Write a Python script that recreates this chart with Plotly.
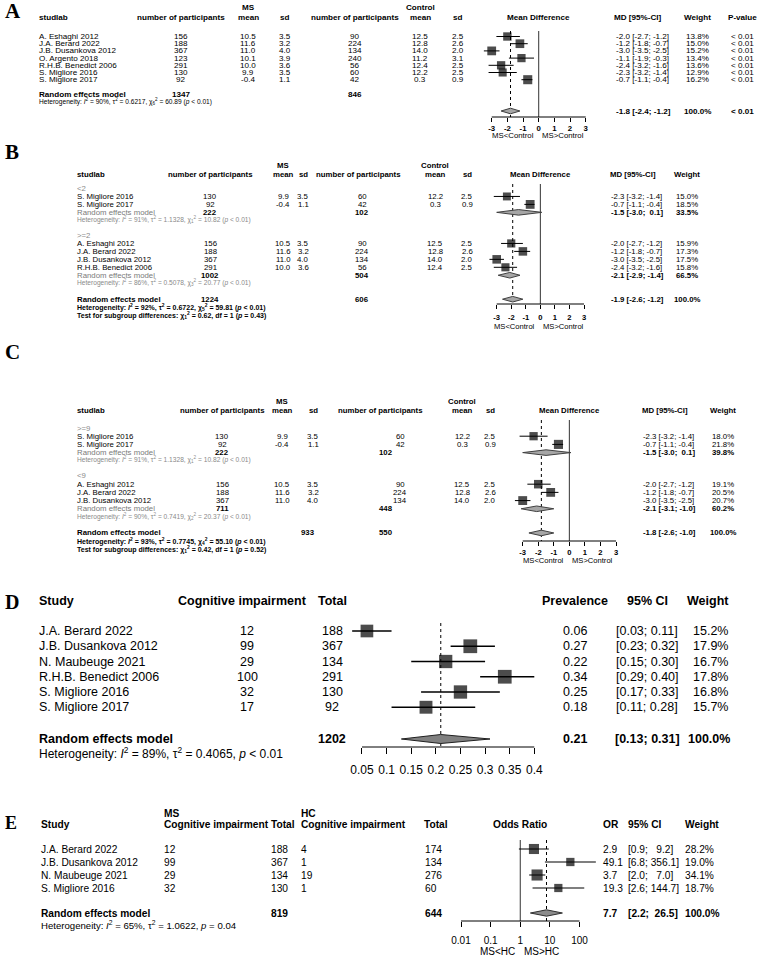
import math
import plotly.graph_objects as go

W, H = 762, 959
SANS = "Liberation Sans, Arial, Helvetica, sans-serif"
SERIF = "Liberation Serif, Times New Roman, serif"
NB = "\u00a0"

# ---------------- Panel A : all studies, mean difference ----------------
studies_A = ["A. Eshaghi 2012", "J.A. Berard 2022", "J.B. Dusankova 2012", "O. Argento 2018",
             "R.H.B. Benedict 2006", "S. Migliore 2016", "S. Migliore 2017"]
n_ms_A = [156, 188, 367, 123, 291, 130, 92]
mean_ms_A = [10.5, 11.6, 11.0, 10.1, 10.0, 9.9, -0.4]
sd_ms_A = [3.5, 3.2, 4.0, 3.9, 3.6, 3.5, 1.1]
n_c_A = [90, 224, 134, 240, 56, 60, 42]
mean_c_A = [12.5, 12.8, 14.0, 11.2, 12.4, 12.2, 0.3]
sd_c_A = [2.5, 2.6, 2.0, 3.1, 2.5, 2.5, 0.9]
md_A = [-2.0, -1.2, -3.0, -1.1, -2.4, -2.3, -0.7]
lo_A = [-2.7, -1.8, -3.5, -1.9, -3.2, -3.2, -1.1]
hi_A = [-1.2, -0.7, -2.5, -0.3, -1.6, -1.4, -0.4]
w_A = [13.8, 15.0, 15.2, 13.4, 13.6, 12.9, 16.2]
pval_A = ["< 0.01"] * 7
pooled_A = (-1.8, -2.4, -1.2)
pooled_p_A = "< 0.01"
tot_A = (1347, 846)
het_A = (90, 0.6217, 6, 60.89, "< 0.01")

# ---------------- Panel B : subgroups <2 / >=2 ----------------
groups_B = ["<2", ">=2"]
idx_B = [[5, 6], [0, 1, 2, 4]]
w_B = [[15.0, 18.5], [15.9, 17.3, 17.5, 15.8]]
sub_B = [(-1.5, -3.0, 0.1), (-2.1, -2.9, -1.4)]
subw_B = [33.5, 66.5]
subn_B = [(222, 102), (1002, 504)]
subhet_B = [(91, 1.1328, 1, 10.82, "< 0.01"), (86, 0.5078, 3, 20.77, "< 0.01")]
pooled_B = (-1.9, -2.6, -1.2)
tot_B = (1224, 606)
het_B = (92, 0.6722, 5, 59.81, "< 0.01")
test_B = (0.62, 1, "0.43")

# ---------------- Panel C : subgroups >=9 / <9 ----------------
groups_C = [">=9", "<9"]
idx_C = [[5, 6], [0, 1, 2]]
w_C = [[18.0, 21.8], [19.1, 20.5, 20.7]]
sub_C = [(-1.5, -3.0, 0.1), (-2.1, -3.1, -1.0)]
subw_C = [39.8, 60.2]
subn_C = [(222, 102), (711, 448)]
subhet_C = [(91, 1.1328, 1, 10.82, "< 0.01"), (90, 0.7419, 2, 20.37, "< 0.01")]
pooled_C = (-1.8, -2.6, -1.0)
tot_C = (933, 550)
het_C = (93, 0.7745, 4, 55.10, "< 0.01")
test_C = (0.42, 1, "0.52")

# ---------------- Panel D : prevalence ----------------
studies_D = ["J.A. Berard 2022", "J.B. Dusankova 2012", "N. Maubeuge 2021",
             "R.H.B. Benedict 2006", "S. Migliore 2016", "S. Migliore 2017"]
events_D = [12, 99, 29, 100, 32, 17]
total_D = [188, 367, 134, 291, 130, 92]
prev_D = [0.06, 0.27, 0.22, 0.34, 0.25, 0.18]
lo_D = [0.03, 0.23, 0.15, 0.29, 0.17, 0.11]
hi_D = [0.11, 0.32, 0.30, 0.40, 0.33, 0.28]
w_D = [15.2, 17.9, 16.7, 17.8, 16.8, 15.7]
pooled_D = (0.21, 0.13, 0.31)
tot_D = 1202
ticks_D = [0.05, 0.1, 0.15, 0.2, 0.25, 0.3, 0.35, 0.4]
ticklab_D = ["0.05", "0.1", "0.15", "0.2", "0.25", "0.3", "0.35", "0.4"]

# ---------------- Panel E : odds ratio ----------------
studies_E = ["J.A. Berard 2022", "J.B. Dusankova 2012", "N. Maubeuge 2021", "S. Migliore 2016"]
ms_ev_E = [12, 99, 29, 32]
ms_tot_E = [188, 367, 134, 130]
hc_ev_E = [4, 1, 19, 1]
hc_tot_E = [174, 134, 276, 60]
or_E = [2.9, 49.1, 3.7, 19.3]
lo_E = [0.9, 6.8, 2.0, 2.6]
hi_E = [9.2, 356.1, 7.0, 144.7]
w_E = [28.2, 19.0, 34.1, 18.7]
pooled_E = (7.7, 2.2, 26.5)
tot_E = (819, 644)
ticks_E = [0.01, 0.1, 1, 10, 100]
ticklab_E = ["0.01", "0.1", "1", "10", "100"]

ticks_MD = [-3, -2, -1, 0, 1, 2, 3]

# ======================================================================
fig = go.Figure()
ann, shp, axes = [], [], {}


def esc(s):
    return s.replace("<", "&lt;").replace(">", "&gt;")


def T(x, y, s, size, anchor="left", bold=False, color="black", family=SANS):
    ann.append(dict(x=x / W, y=y, xref="paper", yref="y", text=s, showarrow=False,
                    xanchor=anchor, yanchor="middle", borderpad=0,
                    font=dict(size=size, color=color, family=family,
                              weight="bold" if bold else "normal")))


def het_txt(h):
    I2, tau, df, chi, p = h
    return (f"Heterogeneity: <i>I</i><sup>2</sup> = {I2}%, τ<sup>2</sup> = {tau:.4f}, "
            f"χ<sub>{df}</sub><sup>2</sup> = {chi:.2f} (<i>p</i> {esc(p)})")


def test_txt(t):
    chi, df, p = t
    return f"Test for subgroup differences: χ<sub>{df}</sub><sup>2</sup> = {chi:.2f}, df = {df} (<i>p</i> = {p})"


def md_txt(e, l, h):
    pad = NB if h >= 0 else ""
    return f"{e:.1f} [{l:.1f}; {pad}{h:.1f}]"


def add_axis(key, a, b, pa, pb, yline, tickvals, ticktext, ext, ticklen, tsize, tbold, standoff, log=False):
    la, lb = (math.log10(a), math.log10(b)) if log else (a, b)
    s = (pb - pa) / (lb - la)
    name = "xaxis" if key == "x" else "xaxis" + key[1:]
    axes[name] = dict(
        domain=[(pa - ext * s) / W, (pb + ext * s) / W], range=[la - ext, lb + ext],
        type="log" if log else "linear", anchor="free", position=1 - yline / H,
        showgrid=False, zeroline=False, showline=False,
        ticks="outside", ticklen=ticklen, tickwidth=1, tickcolor="black",
        tickmode="array", tickvals=tickvals, ticktext=ticktext,
        tickfont=dict(size=tsize, family=SANS, color="black", weight="bold" if tbold else "normal"),
        ticklabelstandoff=int(round(standoff)), fixedrange=True)
    shp.append(dict(type="line", xref=key, yref="y", x0=a, x1=b, y0=yline, y1=yline,
                    line=dict(color="black", width=1)))


def vline(key, x, y0, y1, dash="solid", color="black", width=1):
    shp.append(dict(type="line", xref=key, yref="y", x0=x, x1=x, y0=y0, y1=y1, layer="below",
                    line=dict(color=color, width=width, dash=dash)))


def forest(key, est, lo, hi, ys, wts, k, lw=1):
    xs, yy = [], []
    for l, h, y in zip(lo, hi, ys):
        xs += [l, h, None]
        yy += [y, y, None]
    fig.add_trace(go.Scatter(x=xs, y=yy, mode="lines", xaxis=key, yaxis="y",
                             line=dict(color="black", width=lw), hoverinfo="skip", showlegend=False))
    fig.add_trace(go.Scatter(x=est, y=ys, mode="markers", xaxis=key, yaxis="y", cliponaxis=False,
                             marker=dict(symbol="square", color="black", line=dict(width=0),
                                         size=[k * math.sqrt(w) for w in wts]),
                             hoverinfo="skip", showlegend=False))


def diamond(key, est, lo, hi, y, h, fill="#a6a6a6", line="#404040"):
    fig.add_trace(go.Scatter(x=[lo, est, hi, est, lo], y=[y, y - h, y, y + h, y], mode="lines",
                             fill="toself", fillcolor=fill, xaxis=key, yaxis="y",
                             line=dict(color=line, width=1), hoverinfo="skip", showlegend=False))


def letter(y, s, size):
    T(4, y, s, size, "left", True, "black", SERIF)


# ======================= Panel A =======================
fs = 8.1
letter(11, "A", 21)
cA = dict(name=38, n1=181, m1=248, s1=285, n2=355, m2=420, s2=458, fp=538, md=615, w=697, p=742)
T(cA["m1"], 7, "MS", fs, "center", True)
T(cA["m2"], 7, "Control", fs, "center", True)
hy = 17
T(cA["name"], hy, "studlab", fs, "left", True)
for k, s in [("n1", "number of participants"), ("m1", "mean"), ("s1", "sd"),
             ("n2", "number of participants"), ("m2", "mean"), ("s2", "sd"),
             ("fp", "Mean Difference"), ("w", "Weight"), ("p", "P-value")]:
    T(cA[k], hy, s, fs, "center", True)
T(cA["md"] + 23, hy, "MD [95%-CI]", fs, "center", True)
rowsA = [36.5 + 7.2 * i for i in range(len(studies_A))]
for i, s in enumerate(studies_A):
    y = rowsA[i]
    T(cA["name"], y, s, fs)
    T(cA["n1"], y, str(n_ms_A[i]), fs, "center")
    T(cA["m1"], y, f"{mean_ms_A[i]:.1f}", fs, "center")
    T(cA["s1"], y, f"{sd_ms_A[i]:.1f}", fs, "center")
    T(cA["n2"], y, str(n_c_A[i]), fs, "center")
    T(cA["m2"], y, f"{mean_c_A[i]:.1f}", fs, "center")
    T(cA["s2"], y, f"{sd_c_A[i]:.1f}", fs, "center")
    T(cA["md"], y, md_txt(md_A[i], lo_A[i], hi_A[i]), fs)
    T(cA["w"], y, f"{w_A[i]:.1f}%", fs, "center")
    T(cA["p"], y, esc(pval_A[i]), fs, "center")
yre_l, yre_r = 94, 111
T(cA["name"], yre_l, "Random effects model", fs, "left", True)
T(cA["n1"], yre_l, str(tot_A[0]), fs, "center", True)
T(cA["n2"], yre_l, str(tot_A[1]), fs, "center", True)
T(cA["name"], 101.5, het_txt(het_A), 6.6)
T(cA["md"], yre_r, md_txt(*pooled_A), fs, "left", True)
T(cA["w"], yre_r, "100.0%", fs, "center", True)
T(cA["p"], yre_r, esc(pooled_p_A), fs, "center", True)
axA = 117
add_axis("x", -3, 3, 491.7, 585.7, axA, ticks_MD, [str(t) for t in ticks_MD], 1, 3.5, 7.8, True, 0)
vline("x", 0, 31, axA, color="#333333")
vline("x", pooled_A[0], 31, axA, dash="dot")
forest("x", md_A, lo_A, hi_A, rowsA, w_A, 2.25)
diamond("x", *pooled_A, yre_r, 2.8)
for txt, anc, xs in [("MS&lt;Control", "right", -3), ("MS&gt;Control", "left", 1)]:
    ann.append(dict(x=0, y=135.5, xref="x", yref="y", text=txt, showarrow=False, xanchor=anc,
                    xshift=xs, yanchor="middle", font=dict(size=7.8, family=SANS, color="black")))


# ======================= Panels B and C (subgroups) =======================
def subgroup_panel(key, c, fs, y0, groups, idx, wts, subs, subw, subn, subhet, pooled, tot, het, test,
                   ax_px, axline, standoff, sub_dy, k, line_top):
    T(c["m1"], y0, "MS", fs, "center", True)
    T(c["m2"], y0, "Control", fs, "center", True)
    hy = y0 + 9
    T(c["name"], hy, "studlab", fs, "left", True)
    for kk, s in [("n1", "number of participants"), ("m1", "mean"), ("s1", "sd"),
                  ("n2h", "number of participants"), ("m2", "mean"), ("s2", "sd"),
                  ("fp", "Mean Difference"), ("w", "Weight")]:
        T(c[kk], hy, s, fs, "center", True)
    T(c["md"] + 23, hy, "MD [95%-CI]", fs, "center", True)
    y = c["first"]
    ys_all, est_all, lo_all, hi_all, w_all = [], [], [], [], []
    for g in range(len(groups)):
        T(c["name"], y, esc(groups[g]), fs, "left", False, "#8a8a8a")
        y += c["step"]
        for j, i in enumerate(idx[g]):
            T(c["name"], y, studies_A[i], fs)
            T(c["n1"], y, str(n_ms_A[i]), fs, "center")
            T(c["m1"], y, f"{mean_ms_A[i]:.1f}", fs, "center")
            T(c["s1"], y, f"{sd_ms_A[i]:.1f}", fs, "center")
            T(c["n2"], y, str(n_c_A[i]), fs, "center")
            T(c["m2"], y, f"{mean_c_A[i]:.1f}", fs, "center")
            T(c["s2"], y, f"{sd_c_A[i]:.1f}", fs, "center")
            T(c["md"], y, md_txt(md_A[i], lo_A[i], hi_A[i]), fs)
            T(c["w"], y, f"{wts[g][j]:.1f}%", fs, "center")
            ys_all.append(y); est_all.append(md_A[i]); lo_all.append(lo_A[i])
            hi_all.append(hi_A[i]); w_all.append(wts[g][j])
            y += c["step"]
        T(c["name"], y, "Random effects model", fs, "left", False, "#7a7a7a")
        T(c["n1t"], y, str(subn[g][0]), fs, "center", True)
        T(c["n2t"], y, str(subn[g][1]), fs, "center", True)
        T(c["md"], y, md_txt(*subs[g]), fs, "left", True)
        T(c["w"], y, f"{subw[g]:.1f}%", fs, "center", True)
        diamond(key, *subs[g], y, 2.8)
        y += c["step"] * 0.9
        T(c["name"], y, het_txt(subhet[g]), fs * 0.85, "left", False, "#8a8a8a")
        y += c["gap"]
    y += c["step"] * 0.1
    T(c["name"], y, "Random effects model", fs, "left", True)
    T(c["n1o"], y, str(tot[0]), fs, "center", True)
    T(c["n2t"], y, str(tot[1]), fs, "center", True)
    T(c["md"], y, md_txt(*pooled), fs, "left", True)
    T(c["w"], y, "100.0%", fs, "center", True)
    diamond(key, *pooled, y, 2.8)
    T(c["name"], y + 8.5, het_txt(het), fs * 0.9, "left", True)
    T(c["name"], y + 16.5, test_txt(test), fs * 0.9, "left", True)
    add_axis(key, -3, 3, ax_px[0], ax_px[1], axline, ticks_MD, [str(t) for t in ticks_MD], 1, 3.5, 7.6, True,
             standoff)
    vline(key, 0, line_top, axline, color="#333333")
    vline(key, pooled[0], line_top, axline, dash="dot")
    forest(key, est_all, lo_all, hi_all, ys_all, w_all, k)
    for txt, anc, xs in [("MS&lt;Control", "right", -3), ("MS&gt;Control", "left", 1)]:
        ann.append(dict(x=0, y=axline + sub_dy, xref=key, yref="y", text=txt, showarrow=False, xanchor=anc,
                        xshift=xs, yanchor="middle", font=dict(size=7.6, family=SANS, color="black")))


letter(152, "B", 21)
cB = dict(name=76, n1=210, m1=283, s1=303, n2=362, n2h=358, m2=435, s2=467, fp=540, md=610, w=687,
          n1t=210, n2t=362, n1o=210, first=188.5, step=7.95, gap=16)
subgroup_panel("x2", cB, 7.8, 165, groups_B, idx_B, w_B, sub_B, subw_B, subn_B, subhet_B, pooled_B, tot_B,
               het_B, test_B, (496.7, 584.0), 304, 2, 22.5, 2.05, 184)

letter(352, "C", 21)
cC = dict(name=76, n1=222, m1=282, s1=313, n2=400, n2h=380, m2=462, s2=490, fp=569, md=642, w=723,
          n1t=222, n2t=386, n1o=308, first=428, step=8.2, gap=16)
subgroup_panel("x3", cC, 7.8, 401, groups_C, idx_C, w_C, sub_C, subw_C, subn_C, subhet_C, pooled_C, tot_C,
               het_C, test_C, (522.7, 616.0), 541, 0, 19.5, 1.95, 420)

# ======================= Panel D =======================
fD = 12.5
letter(602, "D", 20)
T(38, 601, "Study", fD, "left", True)
T(242, 601, "Cognitive impairment", fD, "center", True)
T(332, 601, "Total", fD, "center", True)
T(575, 601, "Prevalence", fD, "center", True)
T(647, 601, "95% CI", fD, "center", True)
T(708, 601, "Weight", fD, "center", True)
rowsD = [631 + 15.25 * i for i in range(len(studies_D))]
for i, s in enumerate(studies_D):
    y = rowsD[i]
    T(38, y, s, fD)
    T(247, y, str(events_D[i]), fD, "center")
    T(332, y, str(total_D[i]), fD, "center")
    T(575, y, f"{prev_D[i]:.2f}", fD, "center")
    T(647, y, f"[{lo_D[i]:.2f}; {hi_D[i]:.2f}]", fD, "center")
    T(710, y, f"{w_D[i]:.1f}%", fD, "center")
yD = 739
T(38, yD, "Random effects model", fD, "left", True)
T(332, yD, str(tot_D), fD, "center", True)
T(575, yD, f"{pooled_D[0]:.2f}", fD, "center", True)
T(647, yD, f"[{pooled_D[1]:.2f}; {pooled_D[2]:.2f}]", fD, "center", True)
T(709, yD, "100.0%", fD, "center", True)
T(38, 753, "Heterogeneity: <i>I</i><sup>2</sup> = 89%, τ<sup>2</sup> = 0.4065, <i>p</i> &lt; 0.01", 12)
axD = 747
add_axis("x4", 0.05, 0.4, 362, 534.3, axD, ticks_D, ticklab_D, 0.05, 6, 12, False, 6)
vline("x4", pooled_D[0], 623, axD, dash="dot")
forest("x4", prev_D, lo_D, hi_D, rowsD, w_D, 3.25, lw=1.3)
diamond("x4", *pooled_D, yD, 4.5, fill="#808080", line="#202020")

# ======================= Panel E =======================
fE = 10.2
letter(823, "E", 18)
T(163, 813, "MS", fE, "left", True)
T(300, 813, "HC", fE, "left", True)
hyE = 824
T(40, hyE, "Study", fE, "left", True)
T(163, hyE, "Cognitive impairment", fE, "left", True)
T(270, hyE, "Total", fE, "left", True)
T(300, hyE, "Cognitive impairment", fE, "left", True)
T(423, hyE, "Total", fE, "left", True)
T(520, hyE, "Odds Ratio", fE, "center", True)
T(602, hyE, "OR", fE, "left", True)
T(627, hyE, "95% CI", fE, "left", True)
T(684, hyE, "Weight", fE, "left", True)


def ci_e(l, h):
    hs = f"{h:.1f}"
    return f"[{l:.1f};" + NB * (1 + 5 - len(hs)) + hs + "]"


rowsE = [849 + 13 * i for i in range(len(studies_E))]
for i, s in enumerate(studies_E):
    y = rowsE[i]
    T(40, y, s, fE)
    T(163, y, str(ms_ev_E[i]), fE)
    T(270, y, str(ms_tot_E[i]), fE)
    T(300, y, str(hc_ev_E[i]), fE)
    T(424, y, str(hc_tot_E[i]), fE)
    T(602, y, f"{or_E[i]:.1f}", fE)
    T(627, y, ci_e(lo_E[i], hi_E[i]), fE)
    T(684, y, f"{w_E[i]:.1f}%", fE)
yE = 913
T(40, yE, "Random effects model", fE, "left", True)
T(270, yE, str(tot_E[0]), fE, "left", True)
T(424, yE, str(tot_E[1]), fE, "left", True)
T(602, yE, f"{pooled_E[0]:.1f}", fE, "left", True)
T(627, yE, ci_e(pooled_E[1], pooled_E[2]), fE, "left", True)
T(684, yE, "100.0%", fE, "left", True)
T(40, 925, "Heterogeneity: <i>I</i><sup>2</sup> = 65%, τ<sup>2</sup> = 1.0622, <i>p</i> = 0.04", 9.6)
axE = 921
add_axis("x5", 0.01, 100, 461, 579.5, axE, ticks_E, ticklab_E, 1, 5, 10, False, 5, log=True)
vline("x5", 1, 840, axE, color="#333333")
vline("x5", pooled_E[0], 840, axE, dash="dot")
forest("x5", or_E, lo_E, hi_E, rowsE, w_E, 1.9, lw=1.2)
diamond("x5", *pooled_E, yE, 3.2, fill="#8c8c8c", line="#303030")
for txt, anc, xs in [("MS&lt;HC", "right", -3), ("MS&gt;HC", "left", 2)]:
    ann.append(dict(x=math.log10(1), y=951, xref="x5", yref="y", text=txt, showarrow=False, xanchor=anc,
                    xshift=xs, yanchor="middle", font=dict(size=10, family=SANS, color="black")))

fig.update_layout(
    width=W, height=H, margin=dict(l=0, r=0, t=0, b=0),
    paper_bgcolor="white", plot_bgcolor="rgba(0,0,0,0)", showlegend=False,
    yaxis=dict(domain=[0, 1], range=[H, 0], visible=False, fixedrange=True, anchor="x"),
    annotations=ann, shapes=shp, **axes)
fig.write_html("out.html", config={"displayModeBar": False},
               post_script="document.body.style.margin='0px';document.body.style.overflow='hidden';")
